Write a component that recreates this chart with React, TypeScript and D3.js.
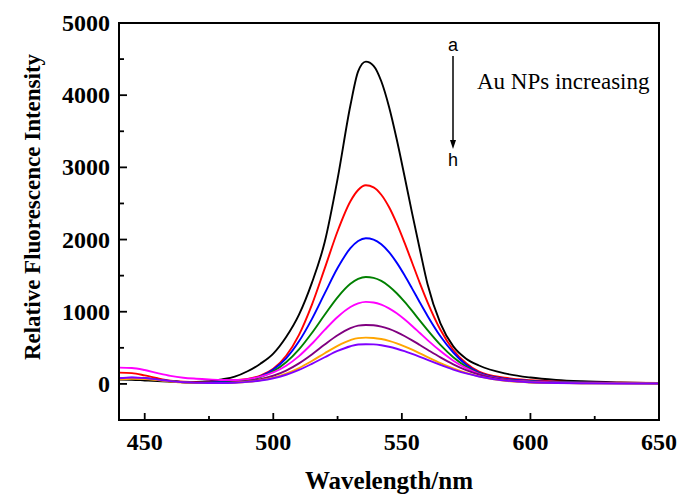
import React from "react";
import * as d3 from "d3";

const wavelengths = [440,445,450,455,460,465,470,475,480,485,490,495,500,505,510,515,520,525,530,533,536,539,542,545,548,551,554,557,560,565,570,575,580,590,600,610,620,635,650];

const seriesA = [60,58,48,38,30,26,26,36,62,100,175,280,420,650,960,1400,1965,2840,3860,4330,4465,4407,4193,3840,3389,2884,2362,1862,1380,840,520,350,255,145,88,55,36,20,10];
const seriesB = [156,150,118,78,45,30,25,28,35,50,70,115,210,390,680,1095,1600,2115,2530,2686,2752,2724,2621,2450,2223,1960,1679,1396,1130,750,470,285,170,85,50,33,24,16,12];
const seriesC = [75,85,78,60,40,25,18,20,28,38,60,105,200,355,590,898,1254,1605,1880,1980,2018,2000,1935,1826,1680,1508,1320,1128,942,660,435,265,155,70,42,28,20,14,11];
const seriesD = [70,78,72,55,36,22,15,16,20,28,50,96,176,300,478,705,958,1200,1387,1455,1482,1470,1427,1354,1256,1140,1011,876,745,540,368,238,145,60,34,22,16,11,9];
const seriesE = [225,220,192,150,112,86,72,62,55,55,67,100,159,252,385,556,748,927,1065,1115,1136,1128,1098,1047,978,895,803,705,607,455,322,218,138,58,30,20,14,10,8];
const seriesF = [72,80,74,56,36,22,15,14,14,22,37,65,113,185,285,408,545,674,773,808,817,812,793,761,717,664,604,539,474,368,272,192,130,55,24,14,10,8,6];
const seriesG = [65,72,68,52,34,20,14,12,12,18,29,50,86,142,220,317,425,528,607,635,641,637,622,597,563,521,474,423,372,289,215,152,104,44,20,13,9,7,5];
const seriesH = [78,88,80,60,38,22,14,12,12,17,28,47,78,127,194,278,369,456,522,546,550,547,535,515,487,454,416,375,332,263,199,145,102,46,22,12,9,6,5];

const allSeries = [seriesA, seriesB, seriesC, seriesD, seriesE, seriesF, seriesG, seriesH];
const seriesColors = ["#000000", "#ff0000", "#0000ff", "#008000", "#ff00ff", "#800080", "#ffa500", "#7f00ff"];

const xMajorTicks = [450, 500, 550, 600, 650];
const xMinorTicks = [475, 525, 575, 625];
const yMajorTicks = [0, 1000, 2000, 3000, 4000, 5000];
const yMinorTicks = [500, 1500, 2500, 3500, 4500];

const W = 679;
const H = 494;
const L = 119, R = 659, T = 23, B = 420;

export default function App() {
  const x = d3.scaleLinear().domain([440, 650]).range([L, R]);
  const y = d3.scaleLinear().domain([-500, 5000]).range([B, T]);
  const line = d3
    .line<number>()
    .x((_, i) => x(wavelengths[i]))
    .y((d) => y(d))
    .curve(d3.curveMonotoneX);

  const serif = "'Liberation Serif', 'Times New Roman', serif";
  const sans = "'Liberation Sans', Arial, sans-serif";

  return (
    <svg
      width={W}
      height={H}
      style={{ position: "absolute", left: 0, top: 0, background: "#fff" }}
    >
      <defs>
        <clipPath id="plotclip">
          <rect x={L} y={T} width={R - L} height={B - T} />
        </clipPath>
      </defs>
      <rect x={0} y={0} width={W} height={H} fill="#fff" />
      <g clipPath="url(#plotclip)">
        {allSeries.map((s, i) => (
          <path
            key={i}
            d={line(s) || ""}
            fill="none"
            stroke={seriesColors[i]}
            strokeWidth={1.9}
            strokeLinejoin="round"
          />
        ))}
      </g>
      <rect x={L} y={T} width={R - L} height={B - T} fill="none" stroke="#000" strokeWidth={2} />
      {xMajorTicks.map((t) => (
        <line key={"xM" + t} x1={x(t)} x2={x(t)} y1={B} y2={B - 7} stroke="#000" strokeWidth={1.8} />
      ))}
      {xMinorTicks.map((t) => (
        <line key={"xm" + t} x1={x(t)} x2={x(t)} y1={B} y2={B - 4} stroke="#000" strokeWidth={1.8} />
      ))}
      {yMajorTicks.map((t) => (
        <line key={"yM" + t} x1={L} x2={L + 8} y1={y(t)} y2={y(t)} stroke="#000" strokeWidth={1.8} />
      ))}
      {yMinorTicks.map((t) => (
        <line key={"ym" + t} x1={L} x2={L + 5} y1={y(t)} y2={y(t)} stroke="#000" strokeWidth={1.8} />
      ))}
      {xMajorTicks.map((t) => (
        <text
          key={"xl" + t}
          x={x(t)}
          y={450}
          textAnchor="middle"
          fontFamily={serif}
          fontWeight="bold"
          fontSize={24}
        >
          {t}
        </text>
      ))}
      {yMajorTicks.map((t) => (
        <text
          key={"yl" + t}
          x={110}
          y={y(t) + 8}
          textAnchor="end"
          fontFamily={serif}
          fontWeight="bold"
          fontSize={24}
        >
          {t}
        </text>
      ))}
      <text
        x={(L + R) / 2}
        y={489}
        textAnchor="middle"
        fontFamily={serif}
        fontWeight="bold"
        fontSize={25}
      >
        Wavelength/nm
      </text>
      <text
        transform={`translate(40, 207) rotate(-90)`}
        textAnchor="middle"
        fontFamily={serif}
        fontWeight="bold"
        fontSize={23}
      >
        Relative Fluorescence Intensity
      </text>
      <text x={453} y={51} textAnchor="middle" fontFamily={sans} fontSize={18}>
        a
      </text>
      <line x1={453} x2={453} y1={56} y2={141} stroke="#000" strokeWidth={1.5} />
      <path d="M450,140 L456,140 L453,149 Z" fill="#000" />
      <text x={453} y={166} textAnchor="middle" fontFamily={sans} fontSize={18}>
        h
      </text>
      <text x={477} y={89} fontFamily={serif} fontSize={23}>
        Au NPs increasing
      </text>
    </svg>
  );
}
